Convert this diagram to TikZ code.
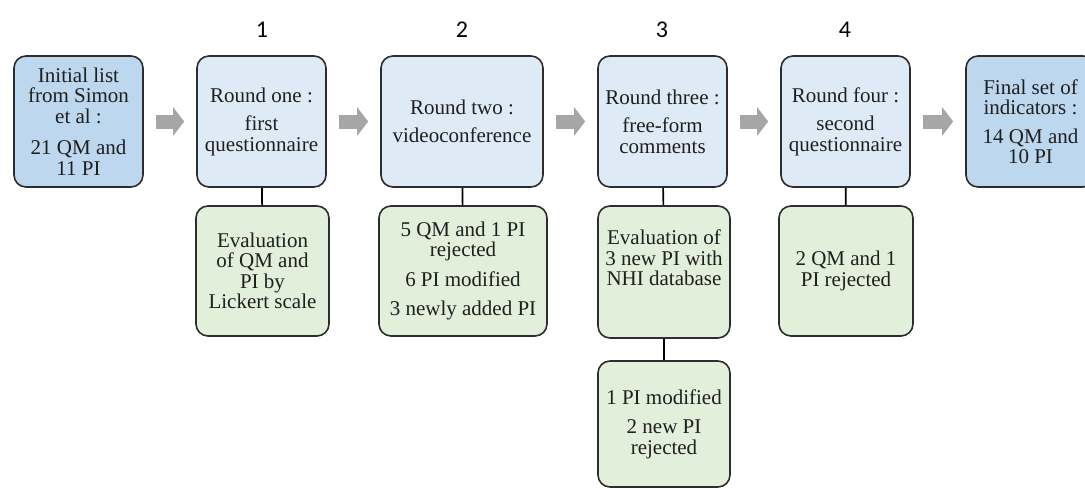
\documentclass[tikz,border=0pt]{standalone}
\usepackage{fontspec}
\setmainfont{Liberation Serif}
\newfontfamily\numfont{Carlito}
\usepackage{tikz}
\usetikzlibrary{arrows.meta, positioning}

\definecolor{darkblue}{RGB}{189,215,238}
\definecolor{paleblue}{RGB}{222,235,247}
\definecolor{palegreen}{RGB}{226,239,218}
\definecolor{flowgray}{RGB}{166,166,166}
\definecolor{edgegray}{RGB}{45,45,45}

\tikzset{
  box/.style={draw=edgegray, line width=1.6pt, rounded corners=12pt, align=center,
    inner sep=2pt, font=\fontsize{21}{20.5}\selectfont, text=black!88},
  endbox/.style={box, fill=darkblue, minimum width=129pt, minimum height=131pt},
  roundbox/.style={box, fill=paleblue, minimum height=131pt},
  resultbox/.style={box, fill=palegreen},
  num/.style={font=\numfont\fontsize{24}{24}\selectfont},
  flow/.style={draw=flowgray, line width=14pt, -{Triangle[length=11pt,width=28pt]},
    shorten <=12pt, shorten >=12pt},
  link/.style={draw=black, line width=1.6pt}
}

\begin{document}
\begin{tikzpicture}[x=1pt,y=-1pt]
\useasboundingbox (0,0) rectangle (1085,488);
% numbers of the rounds
\node[num] (n1) at (262,30) {1};
\node[num] (n2) at (462,30) {2};
\node[num] (n3) at (662,30) {3};
\node[num] (n4) at (845,30) {4};
% top row
\node[endbox] (init) at (78.5,121.5) {Initial list\\from Simon\\et al :\\[11pt]21 QM and\\11 PI};
\node[roundbox, minimum width=129pt] (r1) at (261.5,121.5) {Round one :\\[8pt]first\\questionnaire};
\node[roundbox, minimum width=162pt] (r2) at (462,121.5) {Round two :\\[8pt]videoconference};
\node[roundbox, minimum width=129pt] (r3) at (662.5,121.5) {Round three :\\[8pt]free-form\\comments};
\node[roundbox, minimum width=129pt] (r4) at (845.5,121.5) {Round four :\\[8pt]second\\questionnaire};
\node[endbox] (final) at (1030.5,121.5) {Final set of\\indicators :\\[8pt]14 QM and\\10 PI};
% results
\node[resultbox, minimum width=133pt, minimum height=130pt] (e1) at (262.5,271) {Evaluation\\of QM and\\PI by\\Lickert scale};
\node[resultbox, minimum width=168pt, minimum height=130pt] (e2) at (463,271) {5 QM and 1 PI\\rejected\\[9pt]6 PI modified\\[9pt]3 newly added PI};
\node[resultbox, minimum width=132pt, minimum height=132pt] (e3) at (664,272) {Evaluation of\\3 new PI with\\NHI database\\[8pt]\mbox{}};
\node[resultbox, minimum width=132pt, minimum height=126pt] (e3b) at (664,424) {1 PI modified\\[9pt]2 new PI\\rejected};
\node[resultbox, minimum width=134pt, minimum height=130pt] (e4) at (846,271) {2 QM and 1\\PI rejected};
% flow
\draw[flow] (init) -- (r1);
\draw[flow] (r1) -- (r2);
\draw[flow] (r2) -- (r3);
\draw[flow] (r3) -- (r4);
\draw[flow] (r4) -- (final);
\draw[link] (r1) -- (e1);
\draw[link] (r2) -- (e2);
\draw[link] (r3) -- (e3);
\draw[link] (e3) -- (e3b);
\draw[link] (r4) -- (e4);
\end{tikzpicture}
\end{document}
